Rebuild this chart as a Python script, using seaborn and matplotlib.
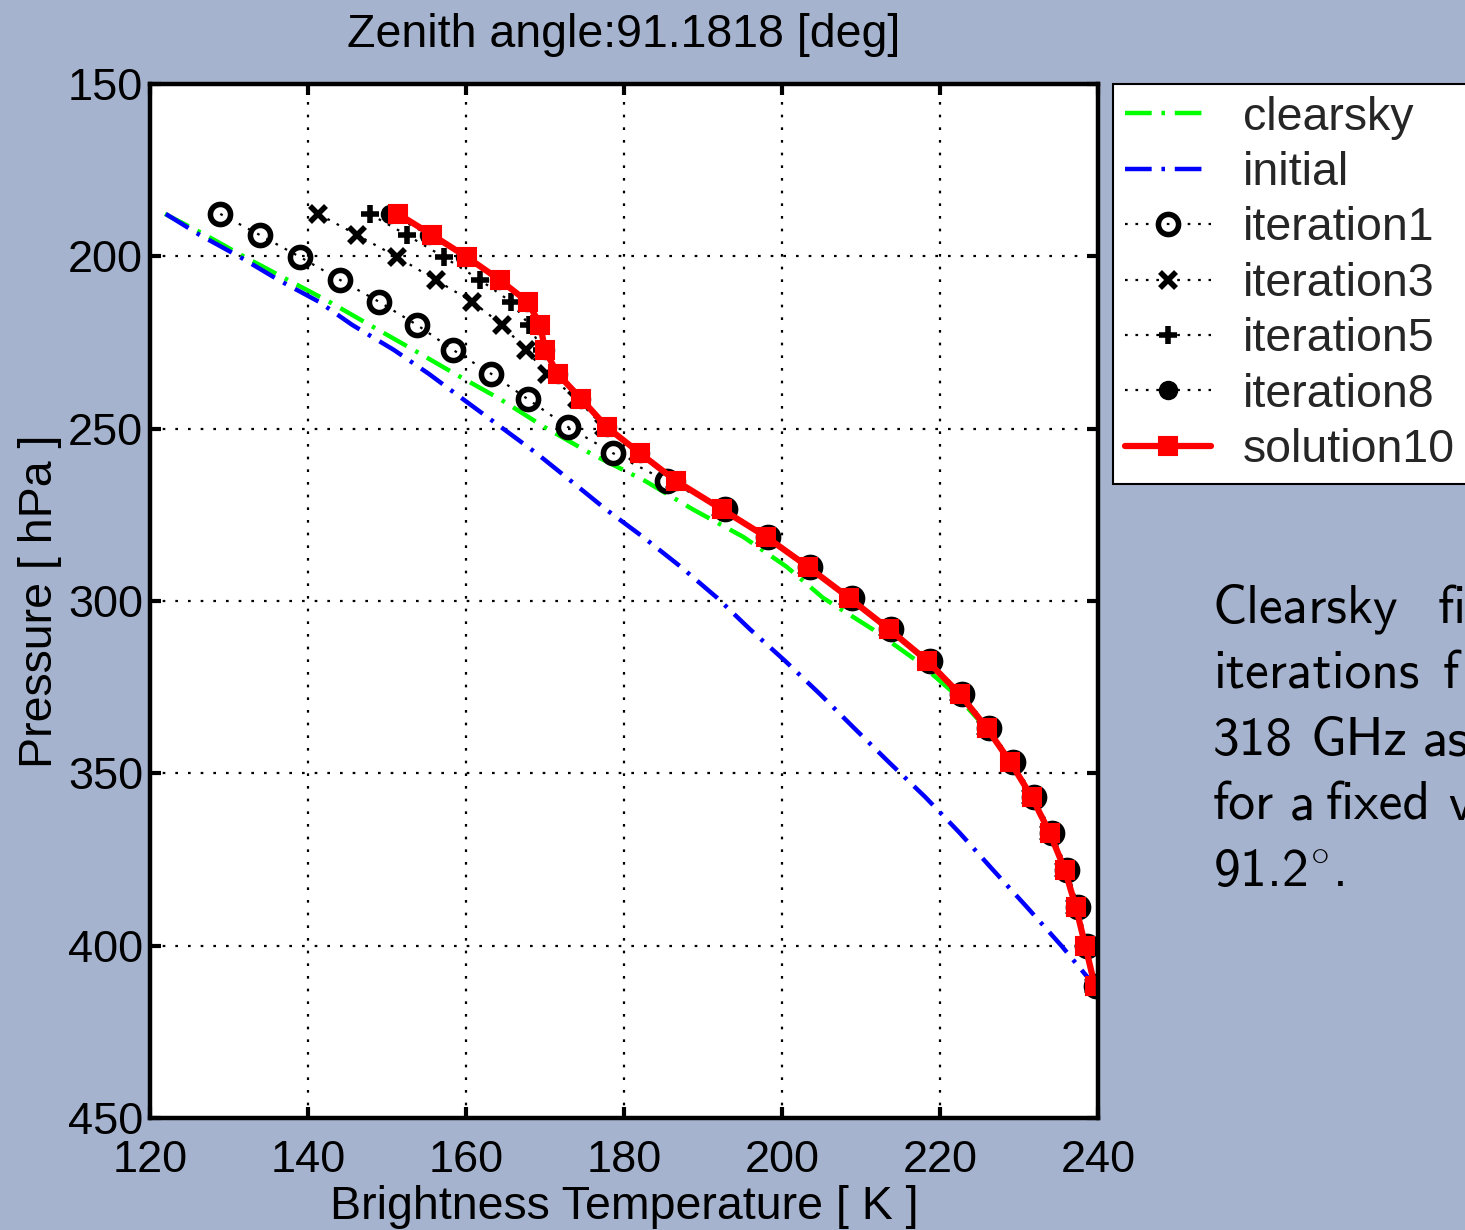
import matplotlib
matplotlib.use("Agg")
import matplotlib.pyplot as plt
import seaborn as sns

# ---------------- data ----------------
pressure = [187.7, 193.8, 200.2, 206.9, 213.2, 219.9, 227.2, 234.1, 241.4, 249.5,
            257.1, 265.2, 273.4, 281.4, 290.1, 299.1, 308.1, 317.4, 327.0, 336.8,
            346.7, 356.8, 367.3, 378.0, 388.8, 400.1, 411.7]

clearsky = [121.9, 127.0, 132.0, 137.5, 142.7, 147.8, 153.4, 158.6, 164.3, 169.9,
            175.7, 182.7, 188.7, 195.1, 200.6, 205.2, 211.4, 217.1, 221.9, 225.8,
            228.9, 231.6, 233.9, 235.8, 237.2, 238.4, 239.6]

initial = [122.0, 126.3, 131.4, 136.3, 141.4, 145.6, 150.9, 155.3, 159.6, 164.4,
           168.9, 173.3, 177.7, 182.4, 187.2, 191.8, 195.9, 200.4, 204.8, 209.1,
           213.5, 218.1, 222.5, 226.7, 231.0, 235.4, 239.6]

iteration1 = [128.9, 133.9, 139.0, 144.1, 149.0, 153.8, 158.4, 163.2, 167.8, 172.9,
              178.6, 185.4, 192.8, 198.2, 203.6, 208.8, 213.8, 218.7, 222.8, 226.2,
              229.2, 231.9, 234.2, 236.1, 237.5, 238.6, 239.7]

iteration3 = [141.3, 146.2, 151.3, 156.2, 160.8, 164.6, 167.6, 170.3, 174.0, 177.5,
              181.8, 186.4, 192.3, 197.9, 203.2, 208.4, 213.4, 218.3, 222.4, 225.8,
              228.8, 231.5, 233.8, 235.7, 237.1, 238.3, 239.5]

iteration5 = [147.8, 152.5, 157.2, 161.8, 165.7, 168.0, 169.6, 171.3, 174.4, 177.7,
              181.9, 186.5, 192.4, 198.0, 203.3, 208.5, 213.5, 218.4, 222.5, 225.9,
              228.9, 231.6, 233.9, 235.8, 237.2, 238.4, 239.6]

iteration8 = [150.4, 155.3, 159.9, 164.2, 167.7, 169.3, 170.0, 171.6, 174.6, 177.8,
              182.0, 186.6, 192.5, 198.1, 203.4, 208.7, 213.7, 218.6, 222.7, 226.1,
              229.1, 231.8, 234.1, 236.0, 237.4, 238.5, 239.7]

solution10 = [151.4, 155.7, 160.1, 164.3, 167.8, 169.4, 170.0, 171.6, 174.6, 177.8,
              182.0, 186.6, 192.4, 198.0, 203.3, 208.5, 213.5, 218.4, 222.5, 225.9,
              228.9, 231.6, 233.9, 235.8, 237.2, 238.4, 239.6]

x_ticks = [120, 140, 160, 180, 200, 220, 240]
y_ticks = [150, 200, 250, 300, 350, 400, 450]

title_text = "Zenith angle:91.1818 [deg]"
x_label = "Brightness Temperature [ K ]"
y_label = "Pressure [ hPa ]"
# side caption of the slide (justified, cut by the right edge as in the original)
side_words = [
    ["Clearsky", "fi"],
    ["iterations", "f"],
    ["318", "GHz", "as"],
    ["for", "a", "fixed", "v"],
    [r"91.2$^{\circ}$."],
]

# ---------------- style ----------------
BG = "#A6B3CE"
sns.set_style("white")
plt.rcParams["font.family"] = ["Liberation Sans", "DejaVu Sans"]
plt.rcParams["axes.unicode_minus"] = False

fig = plt.figure(figsize=(14.65, 12.3), dpi=100, facecolor=BG)
ax = fig.add_axes([150 / 1465, 1 - 1118 / 1230, (1098 - 150) / 1465, (1118 - 84) / 1230])
ax.set_facecolor("white")

common = dict(ax=ax, sort=False, estimator=None)

sns.lineplot(x=clearsky, y=pressure, color="#00FF00", linewidth=3.2,
             linestyle=(0, (6, 2.2, 0.8, 2.2)), label="clearsky", **common)
sns.lineplot(x=initial, y=pressure, color="#0000FF", linewidth=3.2,
             linestyle=(0, (6, 2.2, 0.8, 2.2)), label="initial", **common)

dot_ls = (0, (1.2, 3.5))
sns.lineplot(x=iteration1, y=pressure, color="black", linewidth=1.6, linestyle=dot_ls,
             marker="o", markersize=14.5, markerfacecolor="none", markeredgecolor="black",
             markeredgewidth=4, label="iteration1", **common)
sns.lineplot(x=iteration3, y=pressure, color="black", linewidth=1.6, linestyle=dot_ls,
             marker="x", markersize=11, markeredgecolor="black", markeredgewidth=4,
             label="iteration3", **common)
sns.lineplot(x=iteration5, y=pressure, color="black", linewidth=1.6, linestyle=dot_ls,
             marker="+", markersize=13, markeredgecolor="black", markeredgewidth=4,
             label="iteration5", **common)
sns.lineplot(x=iteration8, y=pressure, color="black", linewidth=1.6, linestyle=dot_ls,
             marker="o", markersize=13, markerfacecolor="black", markeredgecolor="black",
             markeredgewidth=1, label="iteration8", **common)
sns.lineplot(x=solution10, y=pressure, color="#FF0000", linewidth=4.5, linestyle="-",
             marker="s", markersize=13.5, markerfacecolor="#FF0000", markeredgecolor="#FF0000",
             markeredgewidth=1.5, label="solution10", **common)

ax.set_xlim(120, 240)
ax.set_ylim(450, 150)
ax.set_xticks(x_ticks)
ax.set_yticks(y_ticks)
ax.set_xticklabels([str(v) for v in x_ticks])
ax.set_yticklabels([str(v) for v in y_ticks])

ax.grid(True, color="black", linestyle=(0, (1.2, 4.5)), linewidth=1.6)
ax.set_axisbelow(True)

for s in ax.spines.values():
    s.set_linewidth(3.2)
    s.set_color("black")
    s.set_visible(True)

ax.tick_params(axis="both", which="major", direction="in", length=8, width=3,
               top=True, right=True, bottom=True, left=True, labelsize=32.5,
               colors="black")
ax.tick_params(axis="x", pad=16)
ax.tick_params(axis="y", pad=5)

ax.set_title(title_text, fontsize=33.5, pad=26.5, color="black")
ax.set_xlabel(x_label, fontsize=33.5, color="black")
ax.set_ylabel(y_label, fontsize=33.5, color="black")
ax.xaxis.set_label_coords(0.5, -0.065)
ax.yaxis.set_label_coords(-0.093, 0.5)

leg = ax.legend(loc="upper left", bbox_to_anchor=(1113 / 1465, 1 - 84 / 1230),
                bbox_transform=fig.transFigure, fontsize=33.5, frameon=True,
                fancybox=False, shadow=False, framealpha=1, edgecolor="black",
                borderaxespad=0, borderpad=0.25, labelspacing=0.245,
                handlelength=1.85, handletextpad=0.69, numpoints=1)
leg.get_frame().set_linewidth(1.5)

# word positions (pixels) of the justified caption lines
word_x = [[1213, 1438], [1213, 1443], [1213, 1310, 1423], [1213, 1290, 1326, 1448], [1213]]
line_y = [623, 688, 755, 820, 887]
for words, xs, yp in zip(side_words, word_x, line_y):
    for w, xp in zip(words, xs):
        fig.text(xp / 1465, 1 - yp / 1230, w, fontsize=38.5, color="black",
                 family=["cmss10", "DejaVu Sans"], math_fontfamily="cm",
                 ha="left", va="baseline")

fig.savefig("out.png", dpi=100, facecolor=BG)
